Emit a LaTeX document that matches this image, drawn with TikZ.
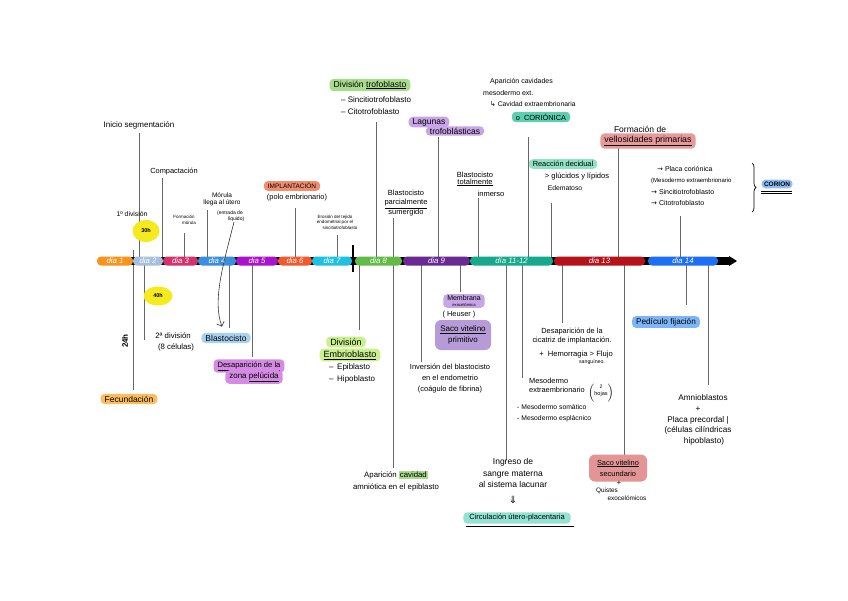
\documentclass[tikz,border=0pt]{standalone}
\usepackage{fontspec}
\setmainfont{Liberation Sans}
\newfontfamily\symfont{DejaVu Sans}
\usetikzlibrary{positioning, calc, shapes.geometric, decorations.pathreplacing, arrows.meta}

\definecolor{diaA}{HTML}{F7941D}
\definecolor{diaB}{HTML}{A6BFDE}
\definecolor{diaC}{HTML}{D1336A}
\definecolor{diaD}{HTML}{3C8FDA}
\definecolor{diaE}{HTML}{A913C9}
\definecolor{diaF}{HTML}{EF5A2F}
\definecolor{diaG}{HTML}{1FC0E2}
\definecolor{diaH}{HTML}{62BB47}
\definecolor{diaI}{HTML}{6A2A92}
\definecolor{diaJ}{HTML}{16A98B}
\definecolor{diaK}{HTML}{B51219}
\definecolor{diaL}{HTML}{1D70F4}
\definecolor{hourYellow}{HTML}{F4EA1E}
\definecolor{salmon}{HTML}{F28C6E}
\definecolor{leaf}{HTML}{A8DC8C}
\definecolor{lilac}{HTML}{C7A5E6}
\definecolor{lilacDark}{HTML}{B69BD8}
\definecolor{tealBox}{HTML}{5CCFB0}
\definecolor{mint}{HTML}{8FE3C3}
\definecolor{rose}{HTML}{E8999A}
\definecolor{roseDark}{HTML}{E39595}
\definecolor{sky}{HTML}{8CBEF5}
\definecolor{skyLight}{HTML}{A9D2F2}
\definecolor{skyDark}{HTML}{7DB6F6}
\definecolor{peach}{HTML}{FBBE5C}
\definecolor{orchid}{HTML}{D58BE4}
\definecolor{lime}{HTML}{C9F08C}
\definecolor{aqua}{HTML}{92E3D2}

\newcommand{\arr}{{\symfont →}}
\newcommand{\fs}[2]{\fontsize{#1}{#2}\selectfont}

\tikzset{
  txt/.style={font=\fs{7.4}{8.8}, align=center, inner sep=1pt},
  tinytxt/.style={font=\fs{4.5}{5.5}, align=center, inner sep=0.5pt},
  hl/.style={txt, fill=#1, rounded corners=4pt, inner xsep=4pt, inner ysep=2pt},
  seg/.style={fill=#1, rounded corners=4pt, minimum height=9pt, inner sep=0pt, text=white, font=\fs{7.8}{8}\itshape},
  stem/.style={draw=black!60, line width=0.8pt},
  hour/.style={ellipse, fill=hourYellow, inner sep=0pt, font=\fs{5.5}{6}\bfseries}
}

\begin{document}
\begin{tikzpicture}[x=1pt, y=-1pt]
\useasboundingbox[fill=white] (0,0) rectangle (848,600);
\coordinate (axis) at (97,261);

% stems
\coordinate (inicioS) at (139,133);
\coordinate (compactS) at (162,178);
\coordinate (formMorS) at (184,233);
\coordinate (morulaS) at (207,210);
\coordinate (implantS) at (295,208);
\coordinate (erosionS) at (337,235);
\coordinate (divTrofS) at (376,122);
\coordinate (blastParcS) at (393,218);
\coordinate (lagunasS) at (438,137);
\coordinate (blastTotS) at (478,198);
\coordinate (apCavS) at (528,137);
\coordinate (reacDecS) at (551,203);
\coordinate (vellosS) at (618,148);
\coordinate (placaS) at (680,216);
\coordinate (h40S) at (144,340);
\coordinate (blastoS) at (229,328);
\coordinate (desapS) at (252,357);
\coordinate (divEmbS) at (359,330);
\coordinate (cavAmnS) at (393,468);
\coordinate (inversS) at (421,362);
\coordinate (membranaS) at (460,292);
\coordinate (ingresoS) at (506,460);
\coordinate (mesoEmbS) at (522,378);
\coordinate (cicatrizS) at (562,323);
\coordinate (sacoSecS) at (624,455);
\coordinate (pedicS) at (686,305);
\coordinate (amnioS) at (708,385);
\coordinate (fecundT) at (133,250);
\coordinate (fecundS) at (133,390);

\foreach \s in {inicioS, compactS, formMorS, morulaS, implantS, erosionS, divTrofS,
  blastParcS, lagunasS, blastTotS, apCavS, reacDecS, vellosS, placaS, h40S, blastoS,
  desapS, divEmbS, cavAmnS, inversS, membranaS, ingresoS, mesoEmbS, cicatrizS,
  sacoSecS, pedicS, amnioS}
  \draw[stem] (\s) -- (\s |- axis);
\draw[stem] (fecundT) -- (fecundS);

% timeline
\fill[black] (108,257) rectangle (729,265);
\fill[black] (729,256) -- (737,261) -- (729,266) -- cycle;
\node[seg=diaA, minimum width=36pt] (d1) at (115,261) {dia 1};
\node[seg=diaB, minimum width=30pt] (d2) at (148,261) {dia 2};
\node[seg=diaC, minimum width=35pt] (d3) at (180.5,261) {dia 3};
\node[seg=diaD, minimum width=38pt] (d4) at (217,261) {dia 4};
\node[seg=diaE, minimum width=42pt] (d5) at (257,261) {dia 5};
\node[seg=diaF, minimum width=34pt] (d6) at (295,261) {dia 6};
\node[seg=diaG, minimum width=40pt] (d7) at (332,261) {dia 7};
\node[seg=diaH, minimum width=47pt] (d8) at (378.5,261) {dia 8};
\node[seg=diaI, minimum width=67pt] (d9) at (436.5,261) {dia 9};
\node[seg=diaJ, minimum width=83pt] (d11) at (511.5,261) {día 11-12};
\node[seg=diaK, minimum width=91pt] (d13) at (599.5,261) {dia 13};
\node[seg=diaL, minimum width=70pt] (d14) at (683,261) {dia 14};
\draw[line width=2.5pt] (353,245) -- (353,272);

% above the line
\node[txt, font=\fs{8}{9}] (inicio) at (139,125) {Inicio segmentación};
\node[txt] (compact) at (174,172) {Compactación};
\node[txt, font=\fs{6.8}{8}] (div1) at (132,214) {1º división};
\node[hour, minimum width=27pt, minimum height=22pt] (h30) at (146,231) {30h};
\node[tinytxt] (formMor) at (184,220) {Formación\\\hspace*{10pt}mórula};
\node[txt, font=\fs{6.5}{6.8}] (morula) at (222,199) {Mórula\\llega al útero};
\node[tinytxt, font=\fs{5}{6}] (entrada) at (230,216) {(entrada de\\\hspace*{12pt}líquido)};
\node[hl=salmon, font=\fs{6.5}{7}] (implant) at (292,186) {IMPLANTACIÓN};
\node[txt] (polo) at (297,198) {(polo embrionario)};
\node[tinytxt, font=\fs{4.5}{5.5}] (erosion) at (335,222) {Erosión del tejido\\endometrial por el\\\hspace*{10pt}sincitiotrofoblasto};
\node[hl=leaf, font=\fs{8.6}{9}] (divTrof) at (370,85) {División \underline{trofoblasto}};
\node[txt, font=\fs{8}{9}, anchor=west] (sincit) at (340,100) {-- Sincitiotrofoblasto};
\node[txt, font=\fs{8}{9}, anchor=west] (citot) at (340,112) {-- Citotrofoblasto};
\node[txt, font=\fs{7.5}{9.6}] (blastParc) at (406,203) {Blastocisto\\\underline{parcialmente}\\sumergido};
\node[hl=lilac, font=\fs{8.5}{9}, inner ysep=1.5pt] (lagunas) at (429,122) {Lagunas};
\node[hl=lilac, font=\fs{8.5}{9}, inner ysep=1.5pt] (lagunasB) at (455,131) {trofoblásticas};
\node[txt, font=\fs{7.5}{7}] (blastTot) at (475,179) {Blastocisto\\\underline{totalmente}};
\node[txt, font=\fs{7.5}{8}] (inmerso) at (491,194) {inmerso};
\node[txt, font=\fs{7}{8}, anchor=west] (apCav) at (489,82) {Aparición cavidades};
\node[txt, font=\fs{7}{8}, anchor=west] (mesoExt) at (482,93) {mesodermo ext.};
\node[txt, font=\fs{6.8}{8}, anchor=west] (cavExt) at (489,104) {{\symfont ↳} Cavidad extraembrionaria};
\node[hl=tealBox] (corionica) at (541,117) {o \ CORIÓNICA};
\node[hl=mint] (reacDec) at (563,164) {Reacción decidual};
\node[txt, font=\fs{7.6}{8}] (glucidos) at (577,176) {> glúcidos y lípidos};
\node[txt, font=\fs{6.8}{8}] (edema) at (565,188) {Edematoso};
\node[txt, font=\fs{8.5}{9}] (formVel) at (640,129) {Formación de};
\node[hl=rose, font=\fs{8.8}{9}, inner ysep=2.5pt] (vellos) at (648,141) {\underline{vellosidades primarias}};
\node[txt, font=\fs{7}{11.4}, align=left, anchor=north west] (placaList) at (650,165)
  {\hspace*{6pt}\arr{} Placa coriónica\\{\fs{6}{11.4}(Mesodermo extraembrionario}\\\arr{} Sincitiotrofoblasto\\\arr{} Citotrofoblasto};
\draw[decorate, decoration={brace, amplitude=4pt}, line width=0.7pt] (752,163) -- (752,212);
\node[hl=sky, font=\fs{6.5}{7}\bfseries, inner xsep=2.5pt] (corion) at (777,184) {CORION};
\draw[line width=0.6pt] (corion.south west) ++(0,2.5) -- ++(31,0);
\draw[line width=0.6pt] (corion.south west) ++(0,5) -- ++(31,0);

% below the line
\node[hl=peach, font=\fs{8.5}{9}] (fecund) at (129,399) {Fecundación};
\node[txt, rotate=90, font=\fs{8}{8}\bfseries] (h24) at (125,341) {24h};
\node[hour, minimum width=29pt, minimum height=19pt] (h40) at (158,296) {40h};
\node[txt, font=\fs{7.8}{10.5}] (div2) at (173,342) {2ª división\\\hspace*{6pt}(8 células)};
\node[hl=skyLight, font=\fs{8.5}{9}] (blasto) at (226,338) {Blastocisto};
\node[hl=orchid, font=\fs{7.6}{8}] (desapA) at (249,366) {\underline{Desaparición de la}};
\node[hl=orchid, font=\fs{8}{8.5}] (desapB) at (254,377) {zona \underline{pelúcida}};
\node[hl=lime, font=\fs{9}{9.5}] (divEmb) at (346,342) {División};
\node[hl=lime, font=\fs{9}{9.5}] (embrio) at (350,355) {\underline{Embrioblasto}};
\node[txt, font=\fs{8}{9}, anchor=west] (epi) at (328,367) {--\, Epiblasto};
\node[txt, font=\fs{8}{9}, anchor=west] (hipo) at (328,379) {--\, Hipoblasto};
\node[txt, font=\fs{7.8}{12}] (cavAmn) at (396,481)
  {Aparición {\fboxsep=1pt\colorbox{leaf}{cavidad}}\\amniótica en el epiblasto};
\node[txt, font=\fs{7.5}{11}] (invers) at (450,379)
  {Inversión del blastocisto\\en el endometrio\hspace*{16pt}\\(coágulo de fibrina)};
\node[hl=lilac, font=\fs{7}{5.5}, inner ysep=1.5pt] (membrana) at (464,301)
  {Membrana\\{\fs{4.2}{4.5}exocelómica}};
\node[txt] (heuser) at (459,315) {( Heuser )};
\node[hl=lilacDark, rounded corners=6pt, minimum width=56pt, minimum height=30pt, font=\fs{8}{11.5}] (sacoPrim) at (463,335)
  {\underline{Saco vitelino}\\primitivo};
\node[txt, font=\fs{8.5}{11.5}] (ingreso) at (513,473)
  {Ingreso de\\sangre materna\\al sistema lacunar};
\node[txt, font=\symfont\fs{10}{10}] (flecha) at (513,500) {⇓};
\node[hl=aqua, font=\fs{7.5}{9}, inner xsep=6pt] (circul) at (517,518) {Circulación útero-placentaria};
\draw[line width=0.6pt] (circul.south west) ++(3,3) -- ++(108,0);
\node[txt, align=left, anchor=west] (mesoEmb) at (528,385) {Mesodermo\\extraembrionario};
\node[txt] (hojas) at (601,393) {$\Big($\shortstack{\fs{5}{5}2\\\fs{5.5}{6}hojas}$\Big)$};
\node[txt, font=\fs{6.8}{11}, align=left, anchor=west] (mesoHojas) at (516,413) {- Mesodermo somático\\- Mesodermo esplácnico};
\node[txt, font=\fs{7.4}{9}] (cicatriz) at (572,336) {Desaparición de la\\cicatriz de implantación.};
\node[txt, font=\fs{7.6}{9}] (hemorr) at (576,355) {+ \ Hemorragia > Flujo};
\node[tinytxt, font=\fs{5.2}{6}] (sang) at (592,362) {sanguíneo.};
\node[hl=roseDark, rounded corners=6pt, minimum width=58pt, minimum height=27pt, font=\fs{7.4}{11}] (sacoSec) at (618,468)
  {\underline{Saco vitelino}\\secundario};
\node[txt] (mas) at (619,483) {+};
\node[txt, font=\fs{6.4}{7}] (quistes) at (607,491) {Quistes};
\node[txt, font=\fs{6.4}{7}] (exoc) at (627,498) {exocelómicos};
\node[hl=skyDark, font=\fs{8.2}{9}] (pedic) at (666,322) {Pedículo fijación};
\node[txt, font=\fs{8.2}{10.8}] (amnio) at (698,420)
  {\hspace*{10pt}Amnioblastos\\+\\Placa precordal |\\(células cilíndricas\\\hspace*{12pt}hipoblasto)};

% arrow from the uterus entry to the blastocyst
\draw[black!80, line width=0.6pt, -{Straight Barb[length=4pt]}] (entrada.south) ++(4,0)
  .. controls (224,262) and (212,300) .. ([xshift=-4pt, yshift=6pt]blasto.north);
\end{tikzpicture}
\end{document}
